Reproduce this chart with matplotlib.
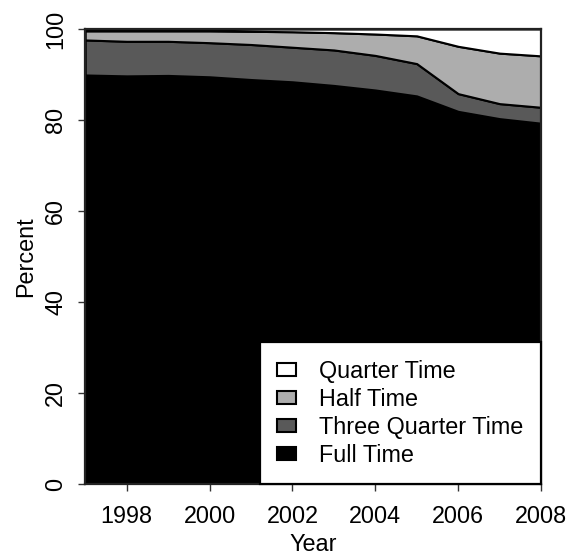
import matplotlib
matplotlib.use("Agg")
import matplotlib.pyplot as plt
from matplotlib.patches import Patch

years = [1997, 1998, 1999, 2000, 2001, 2002, 2003, 2004, 2005, 2006, 2007, 2008]
full_time = [89.9, 89.7, 89.8, 89.5, 88.9, 88.4, 87.6, 86.6, 85.3, 81.9, 80.3, 79.3]
three_quarter_time = [7.7, 7.6, 7.5, 7.5, 7.7, 7.6, 7.8, 7.6, 7.1, 3.9, 3.3, 3.5]
half_time = [2.0, 2.3, 2.3, 2.6, 2.9, 3.4, 3.8, 4.7, 6.1, 10.4, 11.1, 11.3]
quarter_time = [0.4, 0.4, 0.4, 0.4, 0.5, 0.6, 0.8, 1.1, 1.5, 3.8, 5.3, 5.9]
labels = ["Full Time", "Three Quarter Time", "Half Time", "Quarter Time"]
colors = ["#000000", "#595959", "#adadad", "#ffffff"]
x_ticks = [1998, 2000, 2002, 2004, 2006, 2008]
y_ticks = [0, 20, 40, 60, 80, 100]

plt.rcParams['font.family'] = ['Liberation Sans', 'DejaVu Sans']
fs = 16.8

fig = plt.figure(figsize=(5.68, 5.58), dpi=100)
ax = fig.add_axes([0.150, 0.1326, 0.8025, 0.8154])

polys = ax.stackplot(years, full_time, three_quarter_time, half_time, quarter_time,
                     colors=colors, edgecolor="black", linewidth=1.5, labels=labels)

ax.set_xlim(1997, 2008)
ax.set_ylim(0, 100)
ax.set_xticks(x_ticks)
ax.set_yticks(y_ticks)
ax.set_xticklabels([str(v) for v in x_ticks], fontsize=fs)
ax.set_yticklabels([str(v) for v in y_ticks], fontsize=fs, rotation=90, va="center")
ax.tick_params(axis="x", length=5, width=1, pad=10, color="#333333")
ax.tick_params(axis="y", length=5, width=1, pad=8, color="#333333")
for s in ax.spines.values():
    s.set_linewidth(1.6)
    s.set_color("#222222")

ax.set_xlabel("Year", fontsize=fs, labelpad=4)
ax.set_ylabel("Percent", fontsize=fs, labelpad=5)

handles = [Patch(facecolor=c, edgecolor="black", linewidth=1.5) for c in colors]
leg = ax.legend(handles[::-1], labels[::-1], loc="lower right", bbox_to_anchor=(1, 0),
                borderaxespad=0, fancybox=False, edgecolor="black", framealpha=1,
                fontsize=fs, handlelength=0.8, handleheight=0.5, handletextpad=1.0,
                borderpad=0.75, labelspacing=0.21)
leg.get_frame().set_linewidth(1.6)

fig.savefig("out.png", dpi=100)
